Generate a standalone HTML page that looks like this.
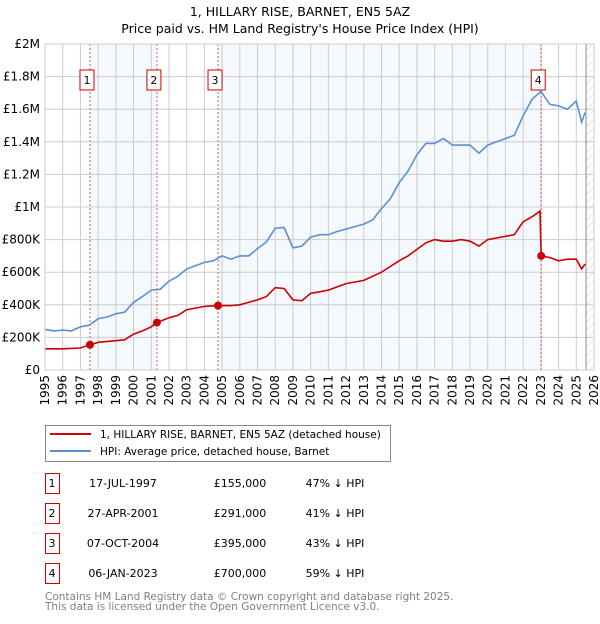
<!DOCTYPE html>
<html><head><meta charset="utf-8"><style>
body{margin:0;background:#fff;width:600px;height:620px;overflow:hidden;font-family:"DejaVu Sans","Liberation Sans",sans-serif;}
text{font-family:"DejaVu Sans","Liberation Sans",sans-serif;}
</style></head><body>
<svg id="c" width="600" height="620" xmlns="http://www.w3.org/2000/svg">
<text x="300" y="16" text-anchor="middle" font-size="12.5" fill="#000">1, HILLARY RISE, BARNET, EN5 5AZ</text>
<text x="300" y="33" text-anchor="middle" font-size="12.5" fill="#000">Price paid vs. HM Land Registry's House Price Index (HPI)</text>
<g id="plot"></g>
<g>
<rect x="45.5" y="425.5" width="345" height="36" fill="#fff" stroke="#888"/>
<line x1="50" y1="434" x2="91" y2="434" stroke="#cc0000" stroke-width="2"/>
<text x="100" y="438" font-size="10.5">1, HILLARY RISE, BARNET, EN5 5AZ (detached house)</text>
<line x1="50" y1="451" x2="91" y2="451" stroke="#5b8fd6" stroke-width="2"/>
<text x="100" y="455" font-size="10.5">HPI: Average price, detached house, Barnet</text>
</g>
<g id="table" font-size="11"></g>
<text x="45" y="600" font-size="10.5" fill="#808080">Contains HM Land Registry data © Crown copyright and database right 2025.</text>
<text x="45" y="610" font-size="10.5" fill="#808080">This data is licensed under the Open Government Licence v3.0.</text>
</svg>
<script>
const hpiYears=[1995,1995.5,1996,1996.5,1997,1997.5,1998,1998.5,1999,1999.5,2000,2000.5,2001,2001.5,2002,2002.5,2003,2003.5,2004,2004.5,2005,2005.5,2006,2006.5,2007,2007.5,2008,2008.5,2009,2009.5,2010,2010.5,2011,2011.5,2012,2012.5,2013,2013.5,2014,2014.5,2015,2015.5,2016,2016.5,2017,2017.5,2018,2018.5,2019,2019.5,2020,2020.5,2021,2021.5,2022,2022.5,2023,2023.5,2024,2024.5,2025,2025.3,2025.5];
const hpiValues=[250,240,245,240,265,275,315,325,345,355,415,450,490,495,545,575,620,640,660,670,700,680,700,700,745,785,870,875,750,760,815,830,830,850,865,880,895,920,990,1050,1150,1220,1320,1390,1390,1420,1380,1380,1380,1330,1380,1400,1420,1440,1560,1660,1710,1630,1620,1600,1650,1520,1580];
const priceYears=[1995,1996,1997,1997.54,1998,1999,1999.5,2000,2000.5,2001,2001.32,2002,2002.5,2003,2003.5,2004,2004.77,2005.5,2006,2007,2007.5,2008,2008.5,2009,2009.5,2010,2010.5,2011,2012,2013,2014,2014.5,2015,2015.5,2016,2016.5,2017,2017.5,2018,2018.5,2019,2019.5,2020,2020.5,2021,2021.5,2022,2022.5,2022.95,2023.02,2023.5,2024,2024.5,2025,2025.3,2025.5];
const priceValues=[130,130,135,155,170,180,185,220,240,265,291,320,335,370,380,390,395,395,400,430,450,505,500,430,425,470,480,490,530,550,600,635,670,700,740,780,800,790,790,800,790,760,800,810,820,830,910,940,975,700,690,670,680,680,620,650];
const saleYears=[1997.54,2001.32,2004.77,2023.02];
const saleValues=[155,291,395,700];
const saleLabels=["1","2","3","4"];
const saleDates=["17-JUL-1997","27-APR-2001","07-OCT-2004","06-JAN-2023"];
const salePrices=["£155,000","£291,000","£395,000","£700,000"];
const saleDiffs=["47% ↓ HPI","41% ↓ HPI","43% ↓ HPI","59% ↓ HPI"];
const yTicks=[0,200,400,600,800,1000,1200,1400,1600,1800,2000];
const yTickLabels=["£0","£200K","£400K","£600K","£800K","£1M","£1.2M","£1.4M","£1.6M","£1.8M","£2M"];
const xTicks=[1995,1996,1997,1998,1999,2000,2001,2002,2003,2004,2005,2006,2007,2008,2009,2010,2011,2012,2013,2014,2015,2016,2017,2018,2019,2020,2021,2022,2023,2024,2025,2026];

const X0=45,X1=594,Y0=370,Y1=44;
const xs=y=>X0+(y-1995)/(2026-1995)*(X1-X0);
const ys=v=>Y0-v/2000*(Y0-Y1);
const NS="http://www.w3.org/2000/svg";
const plot=document.getElementById('plot');
function mk(tag,attrs,parent){const e=document.createElementNS(NS,tag);for(const k in attrs)e.setAttribute(k,attrs[k]);(parent||plot).appendChild(e);return e;}

let r=mk('rect',{x:xs(saleYears[0]),y:Y1,width:xs(saleYears[1])-xs(saleYears[0]),height:Y0-Y1,fill:'#eef3fc',opacity:0.6});


r=mk('rect',{x:xs(saleYears[2]),y:Y1,width:xs(saleYears[3])-xs(saleYears[2]),height:Y0-Y1,fill:'#eef3fc',opacity:0.6});


const defs=mk('defs',{});
const pat=mk('pattern',{id:'h',width:6,height:6,patternUnits:'userSpaceOnUse',patternTransform:'rotate(45)'},defs);
mk('line',{x1:0,y1:0,x2:0,y2:6,stroke:'#ccc','stroke-width':1},pat);
const hx=xs(2025.55);
r=mk('rect',{x:hx,y:Y1,width:X1-hx,height:Y0-Y1,fill:'url(#h)'});



yTicks.forEach((t,i)=>{
  mk('line',{x1:X0,x2:X1,y1:ys(t),y2:ys(t),stroke:'#cccccc','stroke-width':1});
  const tx=mk('text',{x:40,y:ys(t)+4,'text-anchor':'end','font-size':12,fill:'#000'});
  tx.textContent=yTickLabels[i];
  
  
});
xTicks.forEach(t=>{
  mk('line',{x1:xs(t),x2:xs(t),y1:Y1,y2:Y0,stroke:'#cccccc','stroke-width':1});
  const tx=mk('text',{x:0,y:0,'text-anchor':'end','font-size':12,fill:'#000',transform:`translate(${xs(t)+4},${Y0+5}) rotate(-90)`});
  tx.textContent=t;
  
  
});
mk('line',{x1:hx,x2:hx,y1:Y1,y2:Y0,stroke:'#888','stroke-width':1});

saleYears.forEach((s,i)=>{
  const l=mk('line',{x1:xs(s),x2:xs(s),y1:Y1,y2:Y0,stroke:'#e06060','stroke-width':1,'stroke-dasharray':'2,2'});
  
  
  const bx=xs(s)-10;
  const b=mk('rect',{x:bx,y:70,width:14,height:20,fill:'#fff',stroke:'#cc0000'});
  
  
  const t=mk('text',{x:bx+7,y:84,'text-anchor':'middle','font-size':11});
  t.textContent=saleLabels[i];
});

const line=(xa,va,col,name)=>{
  const p=mk('polyline',{points:xa.map((x,i)=>xs(x).toFixed(1)+','+ys(va[i]).toFixed(1)).join(' '),fill:'none',stroke:col,'stroke-width':1.6});
  
  
};
line(hpiYears,hpiValues,'#5b8fd6','hpi-line');
line(priceYears,priceValues,'#cc0000','price-line');
saleYears.forEach((s,i)=>{
  const c=mk('circle',{cx:xs(s),cy:ys(saleValues[i]),r:4,fill:'#cc0000'});
  
  
});
mk('rect',{x:X0,y:Y1,width:X1-X0,height:Y0-Y1,fill:'none',stroke:'#ccc'});

const tb=document.getElementById('table');
saleYears.forEach((s,i)=>{
  const y=473+i*30;
  const b=mk('rect',{x:45.5,y:y+0.5,width:14,height:20,fill:'#fff',stroke:'#cc0000'},tb);
  
  
  const cells=[[52,saleLabels[i]],[123,saleDates[i]],[240,salePrices[i]],[335,saleDiffs[i]]];
  cells.forEach(c=>{const t=mk('text',{x:c[0],y:y+14,'text-anchor':'middle','font-size':11},tb);t.textContent=c[1];});
});
</script>
</body></html>
